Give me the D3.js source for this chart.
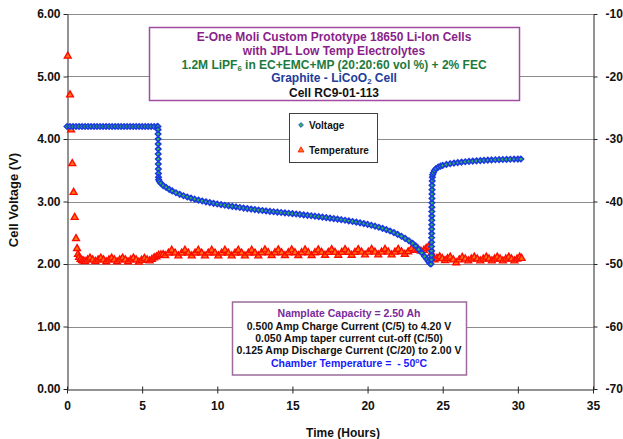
<!DOCTYPE html>
<html>
<head>
<meta charset="utf-8">
<script src="https://cdn.jsdelivr.net/npm/d3@7/dist/d3.min.js"></script>
<style>
  html, body { margin: 0; padding: 0; background: #ffffff; }
  svg { display: block; font-family: "Liberation Sans", Arial, sans-serif; font-weight: bold; }
</style>
</head>
<body>
<svg id="chart" width="623" height="439"></svg>
<script>
// ---- Data: cell voltage [hours, volts] ----
const voltageReadings = [
  [0,4.2],[0.2,4.2],[0.4,4.2],[0.6,4.2],[0.8,4.2],[1,4.2],[1.2,4.2],[1.4,4.2],[1.6,4.2],[1.8,4.2],
  [2,4.2],[2.2,4.2],[2.4,4.2],[2.6,4.2],[2.8,4.2],[3,4.2],[3.2,4.2],[3.4,4.2],[3.6,4.2],[3.8,4.2],
  [4,4.2],[4.2,4.2],[4.4,4.2],[4.6,4.2],[4.8,4.2],[5,4.2],[5.2,4.2],[5.4,4.2],[5.6,4.2],[5.8,4.2],
  [6,4.2],[6.05,4.2],
  [6.06,4.15],[6.06,4.08],[6.065,4.0],[6.065,3.92],[6.07,3.84],[6.07,3.76],[6.075,3.68],[6.075,3.6],
  [6.08,3.52],[6.085,3.45],[6.09,3.39],[6.1,3.35],
  [6.15,3.32],[6.25,3.29],[6.4,3.255],[6.6,3.225],[6.8,3.195],[7,3.17],[7.25,3.14],[7.5,3.115],
  [7.75,3.092],[8,3.072],[8.25,3.054],[8.5,3.037],[8.75,3.022],[9,3.008],[9.25,2.995],[9.5,2.983],
  [9.75,2.971],[10,2.96],[10.25,2.95],[10.5,2.94],[10.75,2.931],[11,2.922],[11.25,2.913],[11.5,2.904],
  [11.75,2.895],[12,2.887],[12.25,2.879],[12.5,2.871],[12.75,2.863],[13,2.856],[13.25,2.849],[13.5,2.842],
  [13.75,2.836],[14,2.83],[14.25,2.824],[14.5,2.818],[14.75,2.812],[15,2.806],[15.25,2.8],[15.5,2.793],
  [15.75,2.786],[16,2.779],[16.25,2.772],[16.5,2.765],[16.75,2.758],[17,2.75],[17.25,2.742],[17.5,2.734],
  [17.75,2.726],[18,2.718],[18.25,2.709],[18.5,2.7],[18.75,2.69],[19,2.68],[19.25,2.67],[19.5,2.659],
  [19.75,2.647],[20,2.634],[20.25,2.62],[20.5,2.605],[20.75,2.588],[21,2.57],[21.25,2.55],[21.5,2.528],
  [21.75,2.503],[22,2.475],[22.25,2.444],[22.5,2.41],[22.75,2.372],[23,2.33],[23.2,2.29],[23.4,2.235],
  [23.6,2.18],[23.8,2.12],[23.95,2.075],[24.05,2.04],[24.15,2.01],[24.22,2.0],
  [24.25,2.07],[24.25,2.14],[24.255,2.21],[24.255,2.28],[24.26,2.35],[24.26,2.42],[24.265,2.49],
  [24.265,2.56],[24.27,2.63],[24.27,2.7],[24.275,2.77],[24.275,2.84],[24.28,2.91],[24.28,2.98],
  [24.285,3.05],[24.285,3.12],[24.29,3.19],[24.29,3.26],[24.3,3.33],[24.31,3.39],[24.33,3.43],
  [24.38,3.46],[24.45,3.495],[24.55,3.525],[24.7,3.55],[24.85,3.566],[25,3.578],[25.25,3.593],
  [25.5,3.605],[25.75,3.615],[26,3.623],[26.25,3.63],[26.5,3.636],[26.75,3.642],[27,3.647],
  [27.25,3.651],[27.5,3.655],[27.75,3.659],[28,3.662],[28.25,3.665],[28.5,3.668],[28.75,3.67],
  [29,3.672],[29.25,3.674],[29.5,3.676],[29.75,3.678],[30,3.679],[30.2,3.68]
];

// ---- Data: cell temperature [hours, deg C] ----
const temperatureReadings = [
  [0.05,-16.7],[0.2,-22.9],[0.27,-28.5],[0.35,-33.9],[0.44,-38.5],[0.51,-42.5],[0.6,-45.9],
  [0.67,-47.5],[0.73,-48.4],[0.8,-48.9],[0.9,-49.2],[1.0,-49.4],[1.1,-49.5],
  [1.2,-49.55],[1.37,-49.3],[1.53,-49.0],[1.71,-49.3],[1.89,-49.55],[2.07,-49.3],[2.25,-49.0],
  [2.43,-49.3],[2.61,-49.6],[2.79,-49.3],[2.97,-49.0],[3.15,-49.3],[3.33,-49.6],[3.51,-49.3],
  [3.7,-49.0],[3.88,-49.3],[4.06,-49.6],[4.24,-49.3],[4.42,-49.0],[4.6,-49.3],[4.78,-49.65],
  [4.96,-49.35],[5.15,-49.05],[5.33,-49.3],[5.5,-49.45],
  [5.65,-49.2],[5.8,-48.95],[5.95,-48.8],[6.1,-48.55],[6.25,-48.5],[6.4,-48.45],
  [6.53,-48.6],[6.75,-48.2],[6.97,-47.75],[7.19,-48.2],[7.41,-48.65],[7.63,-48.2],[7.85,-47.75],
  [8.07,-48.2],[8.3,-48.65],[8.52,-48.2],[8.74,-47.75],[8.96,-48.2],[9.18,-48.65],[9.4,-48.2],
  [9.63,-47.75],[9.85,-48.2],[10.07,-48.65],[10.29,-48.2],[10.51,-47.75],[10.73,-48.2],[10.96,-48.65],
  [11.18,-48.2],[11.4,-47.75],[11.62,-48.2],[11.84,-48.65],[12.07,-48.2],[12.29,-47.75],[12.51,-48.2],
  [12.73,-48.65],[12.95,-48.15],[13.17,-47.7],[13.39,-48.15],[13.62,-48.6],[13.84,-48.15],[14.06,-47.7],
  [14.28,-48.15],[14.5,-48.6],[14.73,-48.15],[14.95,-47.7],[15.17,-48.15],[15.39,-48.6],[15.61,-48.15],
  [15.84,-47.7],[16.06,-48.15],[16.28,-48.6],[16.5,-48.15],[16.72,-47.7],[16.94,-48.1],[17.17,-48.55],
  [17.39,-48.1],[17.61,-47.65],[17.83,-48.1],[18.05,-48.55],[18.28,-48.1],[18.5,-47.65],[18.72,-48.1],
  [18.94,-48.55],[19.16,-48.1],[19.38,-47.65],[19.6,-48.05],[19.83,-48.5],[20.05,-48.05],[20.27,-47.6],
  [20.49,-48.05],[20.71,-48.5],[20.93,-48.05],[21.16,-47.6],[21.38,-48.05],[21.6,-48.5],[21.82,-48.05],
  [22.04,-47.6],[22.26,-48.0],[22.48,-48.4],[22.7,-48.0],[22.93,-47.5],
  [23.15,-47.75],[23.35,-47.55],[23.55,-47.9],[23.75,-47.75],[23.9,-47.45],[24.05,-47.2],[24.17,-47.4],
  [24.25,-48.2],[24.3,-48.9],[24.38,-49.2],
  [24.45,-49.3],[24.62,-49.05],[24.8,-48.8],[24.97,-49.1],[25.15,-49.4],[25.32,-49.1],[25.5,-48.85],
  [25.7,-49.3],[25.9,-49.75],[26.1,-49.3],[26.3,-48.9],[26.5,-49.15],[26.7,-49.45],[26.9,-49.15],
  [27.1,-48.85],[27.3,-49.15],[27.5,-49.45],[27.7,-49.15],[27.9,-48.85],[28.08,-49.15],[28.27,-49.45],
  [28.45,-49.15],[28.63,-48.85],[28.82,-49.15],[29.0,-49.45],[29.2,-49.15],[29.4,-48.85],[29.58,-49.15],
  [29.77,-49.45],[29.95,-49.15],[30.12,-48.85],[30.25,-49.05]
];

// ---- Axis ticks ----
const timeTicks = [0, 5, 10, 15, 20, 25, 30, 35];
const voltTicks = [0, 1, 2, 3, 4, 5, 6];
const tempTicks = [-70, -60, -50, -40, -30, -20, -10];

// ---- Text blocks ----
const titleLines = [
  { color: "#8a1f8a", parts: [{ t: "E-One Moli Custom Prototype 18650 Li-Ion Cells" }] },
  { color: "#8a1f8a", parts: [{ t: "with JPL Low Temp Electrolytes" }] },
  { color: "#1d7a3e", parts: [{ t: "1.2M LiPF" }, { t: "6", sub: true }, { t: " in EC+EMC+MP (20:20:60 vol %) + 2% FEC" }] },
  { color: "#203c9c", parts: [{ t: "Graphite - LiCoO" }, { t: "2", sub: true }, { t: " Cell" }] },
  { color: "#111111", parts: [{ t: "Cell RC9-01-113" }] }
];
const noteLines = [
  { color: "#7a2a9c", parts: [{ t: "Namplate Capacity = 2.50 Ah" }] },
  { color: "#111111", parts: [{ t: "0.500 Amp Charge Current (C/5) to 4.20 V" }] },
  { color: "#111111", parts: [{ t: "0.050 Amp taper current cut-off (C/50)" }] },
  { color: "#111111", parts: [{ t: "0.125 Amp Discharge Current (C/20) to 2.00 V" }] },
  { color: "#1a1aff", parts: [{ t: "Chamber Temperature =  - 50" }, { t: "o", sup: true }, { t: "C" }] }
];
const legendItems = ["Voltage", "Temperature"];

// ---- Scales ----
const svg = d3.select("#chart");
const plot = { left: 67, right: 593, top: 14, bottom: 389 };
const x = d3.scaleLinear().domain([0, 35]).range([plot.left, plot.right]);
const yV = d3.scaleLinear().domain([0, 6]).range([plot.bottom, plot.top]);
const yT = d3.scaleLinear().domain([-70, -10]).range([plot.bottom, plot.top]);

// ---- Gridlines ----
svg.append("g")
  .selectAll("line")
  .data(voltTicks.filter(d => d > 0))
  .join("line")
  .attr("x1", plot.left).attr("x2", plot.right)
  .attr("y1", d => Math.round(yV(d)) + 0.5).attr("y2", d => Math.round(yV(d)) + 0.5)
  .attr("stroke", "#8c8c8c").attr("stroke-width", 1);

// ---- Axes ----
function styleAxis(g) {
  g.select(".domain").attr("stroke", "#262626").attr("stroke-width", 1);
  g.selectAll(".tick line").attr("stroke", "#262626");
  g.selectAll(".tick text")
    .attr("fill", "#111111")
    .style("font-size", "12px")
    .style("font-weight", "bold")
    .style("font-family", "'Liberation Sans', Arial, sans-serif");
}

const gLeft = svg.append("g")
  .attr("transform", `translate(${plot.left + 0.5},0)`)
  .call(d3.axisLeft(yV).tickValues(voltTicks).tickFormat(d3.format(".2f"))
    .tickSizeInner(4).tickSizeOuter(0).tickPadding(3));
styleAxis(gLeft);

const gRight = svg.append("g")
  .attr("transform", `translate(${plot.right + 0.5},0)`)
  .call(d3.axisRight(yT).tickValues(tempTicks).tickFormat(d => String(d))
    .tickSizeInner(4).tickSizeOuter(0).tickPadding(8));
styleAxis(gRight);

const gBottom = svg.append("g")
  .attr("transform", `translate(0,${plot.bottom + 0.5})`)
  .call(d3.axisBottom(x).tickValues(timeTicks).tickFormat(d => String(d))
    .tickSizeInner(4).tickSizeOuter(0).tickPadding(8));
styleAxis(gBottom);
gBottom.selectAll(".tick line").attr("y1", -3).attr("y2", 4);
gBottom.selectAll(".tick text").attr("dy", "0.71em").attr("y", 12);

// ---- Axis titles ----
svg.append("text")
  .attr("transform", "translate(18,200) rotate(-90)")
  .attr("text-anchor", "middle")
  .attr("fill", "#111111")
  .style("font-size", "13px")
  .text("Cell Voltage (V)");

svg.append("text")
  .attr("x", 343).attr("y", 437)
  .attr("text-anchor", "middle")
  .attr("fill", "#111111")
  .style("font-size", "12px")
  .text("Time (Hours)");

// ---- Marker shapes ----
const diamondPath = r => `M0,${-r}L${r},0L0,${r}L${-r},0Z`;
const trianglePath = r => `M0,${-r}L${r * 0.92},${r * 0.62}L${-r * 0.92},${r * 0.62}Z`;

// ---- Temperature series (secondary axis) ----
svg.append("g")
  .selectAll("path")
  .data(temperatureReadings)
  .join("path")
  .attr("transform", d => `translate(${x(d[0])},${yT(d[1])})`)
  .attr("d", trianglePath(3.7))
  .attr("fill", "#ff7410")
  .attr("stroke", "#ff0a00")
  .attr("stroke-width", 1.4);

// ---- Voltage series ----
svg.append("g")
  .selectAll("path")
  .data(voltageReadings)
  .join("path")
  .attr("transform", d => `translate(${x(d[0])},${yV(d[1])})`)
  .attr("d", diamondPath(2.7))
  .attr("fill", "#2dbb4a")
  .attr("stroke", "#1c3ae0")
  .attr("stroke-width", 1.6);

// ---- Text box helper ----
function textBlock(lines, cx, baselines, fontSize) {
  const t = svg.append("g");
  const subShift = fontSize * 0.17;
  const supShift = -fontSize * 0.38;
  lines.forEach((line, i) => {
    const txt = t.append("text")
      .attr("x", cx).attr("y", baselines[i])
      .attr("text-anchor", "middle")
      .attr("fill", line.color)
      .style("font-size", fontSize + "px")
      .style("white-space", "pre");
    let offset = 0;
    line.parts.forEach(p => {
      const span = txt.append("tspan").text(p.t);
      if (p.sub || p.sup) {
        const shift = p.sub ? subShift : supShift;
        span.attr("dy", shift - offset).style("font-size", (fontSize * 0.65) + "px");
        offset = shift;
      } else if (offset !== 0) {
        span.attr("dy", -offset);
        offset = 0;
      }
    });
  });
}

// ---- Title box ----
svg.append("rect")
  .attr("x", 149.5).attr("y", 27.5).attr("width", 370).attr("height", 73)
  .attr("fill", "#ffffff").attr("stroke", "#a04ca0").attr("stroke-width", 1.5);
textBlock(titleLines, 334, [41, 55, 68.6, 82.2, 96.5], 12);

// ---- Legend ----
const legend = svg.append("g");
legend.append("rect")
  .attr("x", 289.5).attr("y", 113.5).attr("width", 88).attr("height", 49)
  .attr("fill", "#ffffff").attr("stroke", "#404040").attr("stroke-width", 1);
legend.append("path")
  .attr("transform", "translate(301,125)")
  .attr("d", diamondPath(2.4))
  .attr("fill", "#2dbb4a").attr("stroke", "#1c3ae0").attr("stroke-width", 0.8);
legend.append("path")
  .attr("transform", "translate(301,150)")
  .attr("d", trianglePath(3.2))
  .attr("fill", "#ff7410").attr("stroke", "#ff0a00").attr("stroke-width", 0.8);
legend.selectAll("text.item")
  .data(legendItems)
  .join("text")
  .attr("class", "item")
  .attr("x", 309).attr("y", (d, i) => 128.6 + i * 25)
  .attr("fill", "#111111")
  .style("font-size", "10px")
  .text(d => d);

// ---- Test conditions box ----
svg.append("rect")
  .attr("x", 232.5).attr("y", 302).attr("width", 234).attr("height", 73)
  .attr("fill", "#ffffff").attr("stroke", "#9c6b9c").attr("stroke-width", 1.5);
textBlock(noteLines, 349, [316.5, 330, 342, 354, 366.5], 10.5);
</script>
</body>
</html>
